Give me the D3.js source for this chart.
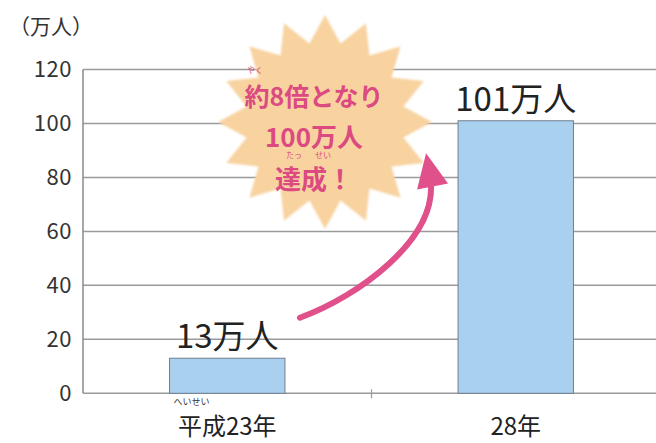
<!DOCTYPE html>
<html>
<head>
<meta charset="utf-8">
<script src="https://cdn.jsdelivr.net/npm/d3@7"></script>
<style>
  body { margin: 0; background: #fff; }
  svg { display: block; font-family: "Noto Sans CJK JP", "Noto Sans", sans-serif; }
</style>
</head>
<body>
<svg id="chart" width="656" height="443"></svg>
<script>
// data
const categories = ["平成23年", "28年"];
const categoryRuby = ["へいせい", ""];
const values = [13, 101];
const valueLabels = ["13万人", "101万人"];
const yTicks = [0, 20, 40, 60, 80, 100, 120];
const unitLabel = "（万人）";
const burstLines = ["約8倍となり", "100万人", "達成！"];

const svg = d3.select("#chart");
const plotLeft = 83, plotRight = 660, plotTop = 69.5, plotBottom = 393.3;

const x = d3.scaleBand()
    .domain(categories)
    .range([plotLeft, plotRight])
    .paddingInner(0.6)
    .paddingOuter(0.3);
const y = d3.scaleLinear().domain([0, 120]).range([plotBottom, plotTop]);

// gridlines
svg.append("g").selectAll("line")
    .data(yTicks)
    .join("line")
    .attr("x1", plotLeft).attr("x2", 656)
    .attr("y1", d => y(d)).attr("y2", d => y(d))
    .attr("stroke", "#9a9a9a")
    .attr("stroke-width", 1.5);

// left axis line
svg.append("line")
    .attr("x1", plotLeft).attr("x2", plotLeft)
    .attr("y1", y(120)).attr("y2", y(0))
    .attr("stroke", "#8a8a8a").attr("stroke-width", 1.5);

// category divider tick
svg.append("line")
    .attr("x1", plotLeft + x.step()).attr("x2", plotLeft + x.step())
    .attr("y1", y(0) - 4).attr("y2", y(0) + 5)
    .attr("stroke", "#999").attr("stroke-width", 1.2);

// y tick labels
svg.append("g").selectAll("text")
    .data(yTicks)
    .join("text")
    .attr("x", 72)
    .attr("y", d => y(d))
    .attr("dy", "0.36em")
    .attr("text-anchor", "end")
    .attr("font-size", 22)
    .attr("letter-spacing", 0.5)
    .attr("fill", "#333")
    .text(d => d);

svg.append("text")
    .attr("x", 9).attr("y", 34)
    .attr("font-size", 21)
    .attr("fill", "#333")
    .text(unitLabel);

// starburst
const defs = svg.append("defs");
defs.append("filter").attr("id", "soft")
    .append("feGaussianBlur").attr("stdDeviation", 1.2);

const cx = 325, cy = 122, spikes = 16;
const burstPts = d3.range(spikes * 2).map(i => {
    const a = i * Math.PI / spikes - Math.PI / 2;
    const r = i % 2 === 0 ? 107 : 80;
    return [cx + r * Math.cos(a), cy + r * Math.sin(a)];
});
svg.append("path")
    .attr("d", d3.line().curve(d3.curveLinearClosed)(burstPts))
    .attr("fill", "#f8d3a0")
    .attr("filter", "url(#soft)");

const pink = "#dc4a82";
const burstY = [106, 147, 189];
svg.append("g").selectAll("text")
    .data(burstLines)
    .join("text")
    .attr("x", 314)
    .attr("y", (d, i) => burstY[i])
    .attr("text-anchor", "middle")
    .attr("font-size", (d, i) => i === 0 ? 25 : 26)
    .attr("font-weight", "bold")
    .attr("fill", pink)
    .text(d => d);

// furigana in the burst
svg.append("text").attr("x", 255).attr("y", 73).attr("font-size", 8)
    .attr("fill", pink).attr("text-anchor", "middle").text("やく");
const ruby2 = svg.append("text").attr("y", 158).attr("font-size", 8)
    .attr("fill", pink).attr("text-anchor", "middle");
ruby2.append("tspan").attr("x", 294).text("たっ");
ruby2.append("tspan").attr("x", 323).text("せい");

// bars
svg.append("g").selectAll("rect")
    .data(values)
    .join("rect")
    .attr("x", (d, i) => x(categories[i]))
    .attr("y", d => y(d))
    .attr("width", x.bandwidth())
    .attr("height", d => y(0) - y(d))
    .attr("fill", "#aad0ef")
    .attr("stroke", "#6f7f8f")
    .attr("stroke-width", 1);

// value labels
svg.append("g").selectAll("text")
    .data(values)
    .join("text")
    .attr("x", (d, i) => x(categories[i]) + x.bandwidth() / 2)
    .attr("y", d => y(d) - 10)
    .attr("text-anchor", "middle")
    .attr("font-size", 33)
    .attr("fill", "#222")
    .text((d, i) => valueLabels[i]);

// category labels
svg.append("g").selectAll("text")
    .data(categories)
    .join("text")
    .attr("x", d => x(d) + x.bandwidth() / 2)
    .attr("y", 435)
    .attr("text-anchor", "middle")
    .attr("font-size", 24)
    .attr("fill", "#222")
    .text(d => d);

svg.append("g").selectAll("text")
    .data(categories)
    .join("text")
    .attr("x", d => x(d) + 4)
    .attr("y", 405)
    .attr("font-size", 9)
    .attr("fill", "#333")
    .text((d, i) => categoryRuby[i]);

// pink arrow from small bar label to big bar
const x0 = x(categories[0]) + x.bandwidth() + 15, y0 = y(28);
const x1 = x(categories[1]) - 27, y1 = y(77);
const p = d3.path();
p.moveTo(x0, y0);
p.bezierCurveTo(x0 + 60, y0 - 22, x1 + 2, y1 + 55, x1, y1);
svg.append("path")
    .attr("d", p.toString())
    .attr("fill", "none")
    .attr("stroke", "#e0508a")
    .attr("stroke-width", 6)
    .attr("stroke-linecap", "round");

const tipX = x(categories[1]) - 32, tipY = y(89);
svg.append("path")
    .attr("d", d3.line()([[tipX, tipY], [x1 + 17, y1 - 2], [x1 - 14, y1 + 4]]) + "Z")
    .attr("fill", "#e0508a");
</script>
</body>
</html>
